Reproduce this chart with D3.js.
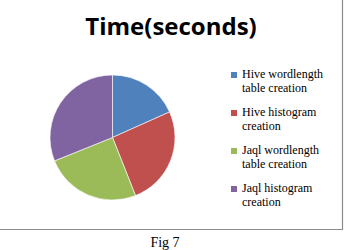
<!DOCTYPE html>
<html>
<head>
<meta charset="utf-8">
<script src="https://cdn.jsdelivr.net/npm/d3@7"></script>
<style>
  body { margin: 0; background: #fff; }
  svg { display: block; }
</style>
</head>
<body>
<div id="chart-area"></div>
<script>
// data
var categories = ["Hive wordlength table creation", "Hive histogram creation",
                  "Jaql wordlength table creation", "Jaql histogram creation"];
var legendLines = [["Hive wordlength", "table creation"], ["Hive histogram", "creation"],
                   ["Jaql wordlength", "table creation"], ["Jaql histogram", "creation"]];
var values = [18.3, 25.7, 24.9, 31.1];
var colors = ["#4f81bd", "#c0504d", "#9bbb59", "#8064a2"];

var width = 346, height = 250;

var svg = d3.select("#chart-area").append("svg")
    .attr("width", width)
    .attr("height", height);

// chart frame (only right and bottom edges visible)
svg.append("path")
    .attr("d", "M342.5,0 V229.5 H0")
    .attr("fill", "none")
    .attr("stroke", "#8c8c8c")
    .attr("stroke-width", 1.2);

// title
svg.append("text")
    .attr("x", 171)
    .attr("y", 35)
    .attr("text-anchor", "middle")
    .attr("font-family", "'Open Sans', 'DejaVu Sans', sans-serif")
    .attr("font-weight", "bold")
    .attr("font-size", "24px")
    .attr("fill", "#000")
    .text("Time(seconds)");

// pie
var radius = 62.5;
var g = svg.append("g")
    .attr("transform", "translate(112.5,137.5)");

var pie = d3.pie().sort(null).value(function(d) { return d; });
var arc = d3.arc().innerRadius(0).outerRadius(radius);

g.selectAll("path")
    .data(pie(values))
    .enter().append("path")
    .attr("d", arc)
    .attr("fill", function(d, i) { return colors[i]; })
    .attr("stroke", "#fff")
    .attr("stroke-width", 0.6);

// legend
var legend = svg.append("g")
    .attr("transform", "translate(231,72)");

var item = legend.selectAll("g")
    .data(categories)
    .enter().append("g")
    .attr("transform", function(d, i) { return "translate(0," + (i * 38) + ")"; });

item.append("rect")
    .attr("width", 6)
    .attr("height", 6)
    .attr("fill", function(d, i) { return colors[i]; });

item.append("text")
    .attr("x", 11)
    .attr("y", 6)
    .attr("font-family", "'Liberation Serif', 'Times New Roman', serif")
    .attr("font-size", "12px")
    .attr("fill", "#000")
    .each(function(d, i) {
        var t = d3.select(this);
        legendLines[i].forEach(function(line, j) {
            t.append("tspan")
                .attr("x", 11)
                .attr("dy", j === 0 ? 0 : 14)
                .text(line);
        });
    });

// caption
svg.append("text")
    .attr("x", 165)
    .attr("y", 247)
    .attr("text-anchor", "middle")
    .attr("font-family", "'Liberation Serif', 'Times New Roman', serif")
    .attr("font-size", "14px")
    .attr("fill", "#000")
    .text("Fig 7");
</script>
</body>
</html>
